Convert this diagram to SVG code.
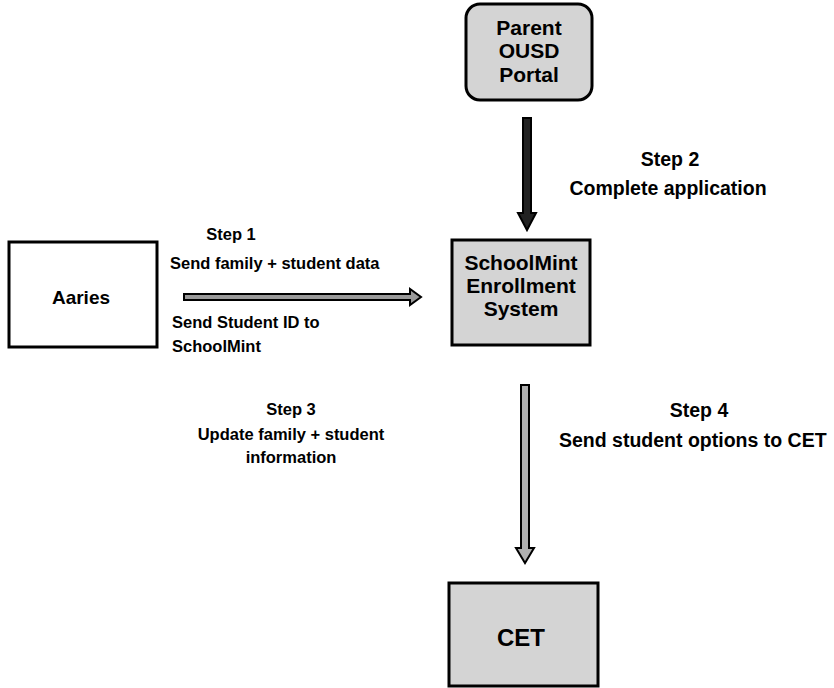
<svg xmlns="http://www.w3.org/2000/svg" width="834" height="688" viewBox="0 0 834 688">
<defs>
<style>
.box{stroke:#000;stroke-width:3;}
.shaded{fill:#d4d4d4;}
.plain{fill:#fff;}
.lbl{font-family:"Liberation Sans",Arial,sans-serif;font-size:21px;font-weight:bold;fill:#000;text-anchor:middle;}
.txt{font-family:"Liberation Sans",Arial,sans-serif;font-size:16.5px;font-weight:bold;fill:#000;}
.big{font-size:19.5px;}
.arr{fill:#9a9a9a;stroke:#000;stroke-width:2;stroke-linejoin:miter;}
</style>
</defs>
<rect width="834" height="688" fill="#fff"/>
<g id="node-portal">
<rect class="box shaded" x="466" y="4" width="126" height="96" rx="14"/>
<text class="lbl" x="529" y="35">Parent</text>
<text class="lbl" x="529" y="58">OUSD</text>
<text class="lbl" x="529" y="82">Portal</text>
</g>
<g id="node-aaries">
<rect class="box plain" x="9" y="242" width="148" height="105"/>
<text class="lbl" x="81" y="304" style="font-size:19px">Aaries</text>
</g>
<g id="node-schoolmint">
<rect class="box shaded" x="452" y="240" width="138" height="105"/>
<text class="lbl" x="521" y="270">SchoolMint</text>
<text class="lbl" x="521" y="293">Enrollment</text>
<text class="lbl" x="521" y="316">System</text>
</g>
<g id="node-cet">
<rect class="box shaded" x="449" y="583" width="149" height="103"/>
<text class="lbl" x="521" y="646" style="font-size:24px">CET</text>
</g>
<g id="connectors">
<path class="arr" d="M523,118 L531,118 L531,213 L536,213 L527,230 L518,213 L523,213 Z" style="fill:#222"/>
<path class="arr" d="M184,294 L410,294 L410,289 L421,297 L410,305 L410,300 L184,300 Z"/>
<path class="arr" d="M521,385 L529,385 L529,548 L534,548 L525,563 L516,548 L521,548 Z" style="fill:#b0b0b0"/>
</g>
<g id="labels">
<text class="txt" x="231" y="240" text-anchor="middle">Step 1</text>
<text class="txt" x="170" y="269">Send family + student data</text>
<text class="txt" x="172" y="328">Send Student ID to</text>
<text class="txt" x="172" y="352">SchoolMint</text>
<text class="txt big" x="670" y="166" text-anchor="middle">Step 2</text>
<text class="txt big" x="668" y="195" text-anchor="middle">Complete application</text>
<text class="txt" x="291" y="415" text-anchor="middle">Step 3</text>
<text class="txt" x="291" y="440" text-anchor="middle">Update family + student</text>
<text class="txt" x="291" y="463" text-anchor="middle">information</text>
<text class="txt big" x="699" y="417" text-anchor="middle">Step 4</text>
<text class="txt big" x="559" y="447">Send student options to CET</text>
</g>
</svg>
